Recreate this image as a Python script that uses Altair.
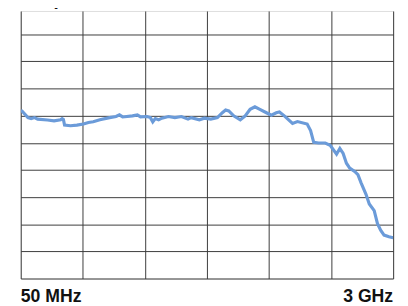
import altair as alt
import pandas as pd

# Trace (frequency in MHz, level in dB relative to the flat part)
freq_mhz = [50, 60, 107, 133, 159, 184, 262, 314, 366, 378, 388, 397, 444, 495, 547, 586,
            624, 677, 754, 805, 832, 857, 935, 974, 999, 1051, 1077, 1096, 1116, 1142, 1168,
            1220, 1271, 1323, 1375, 1401, 1465, 1504, 1556, 1608, 1647, 1673, 1698, 1737,
            1789, 1828, 1867, 1905, 1944, 1996, 2035, 2074, 2099, 2138, 2203, 2242, 2319,
            2346, 2371, 2410, 2462, 2501, 2552, 2578, 2604, 2630, 2656, 2695, 2721, 2746,
            2785, 2811, 2850, 2876, 2901, 2928, 2967, 3000]
level_db = [0.35, 0.35, -0.14, -0.21, -0.14, -0.25, -0.32, -0.38, -0.30, -0.21, -0.27, -0.69,
            -0.74, -0.69, -0.61, -0.50, -0.45, -0.30, -0.14, -0.06, 0.06, -0.09, -0.01, 0.06,
            -0.09, -0.06, -0.14, -0.45, -0.21, -0.30, -0.18, -0.06, -0.14, -0.06, -0.25, -0.14,
            -0.30, -0.18, -0.25, -0.14, 0.22, 0.42, 0.35, -0.01, -0.30, -0.01, 0.47, 0.66,
            0.47, 0.22, 0.04, 0.22, 0.27, -0.01, -0.57, -0.43, -0.61, -1.10, -1.96, -2.01,
            -2.01, -2.18, -2.83, -2.42, -2.78, -3.50, -3.86, -4.11, -4.35, -4.95, -5.79,
            -6.51, -7.00, -7.96, -8.44, -8.80, -8.92, -8.99]

label_text = ["50 MHz", "3 GHz"]
label_freq = [50, 3000]
label_align = ["left", "right"]

title_text = "2 dB per division"

f_start, f_stop = 50, 3000
x_divisions = 6
x_grid = [f_start + k * (f_stop - f_start) / x_divisions for k in range(x_divisions + 1)]
y_grid = list(range(-12, 7, 2))

trace = pd.DataFrame({"freq": freq_mhz, "level": level_db})
labels = pd.DataFrame({"freq": label_freq, "text": label_text, "align": label_align})

x_scale = alt.Scale(domain=[f_start, f_stop], nice=False, zero=False)
y_scale = alt.Scale(domain=[-12, 7.72], nice=False, zero=False)

x_axis = alt.Axis(values=x_grid, grid=True, gridColor="#3a3a3a", gridWidth=1,
                  labels=False, ticks=False, domain=False, title=None)
y_axis = alt.Axis(values=y_grid, grid=True, gridColor="#3a3a3a", gridWidth=1,
                  labels=False, ticks=False, domain=False, title=None)

label_font = "Liberation Sans Narrow, Arial Narrow, Liberation Sans"

line = alt.Chart(trace).mark_line(color="#6b9bd9", strokeWidth=3.2, clip=True).encode(
    x=alt.X("freq:Q", scale=x_scale, axis=x_axis),
    y=alt.Y("level:Q", scale=y_scale, axis=y_axis),
)

left_lab = alt.Chart(labels[labels["align"] == "left"]).mark_text(
    align="left", baseline="alphabetic", fontSize=18, fontWeight="bold",
    font=label_font, color="#111111"
).encode(x=alt.X("freq:Q", scale=x_scale), y=alt.value(297), text="text:N")

right_lab = alt.Chart(labels[labels["align"] == "right"]).mark_text(
    align="right", baseline="alphabetic", fontSize=18, fontWeight="bold",
    font=label_font, color="#111111"
).encode(x=alt.X("freq:Q", scale=x_scale), y=alt.value(297), text="text:N")

title = alt.Chart(pd.DataFrame({"t": [title_text]})).mark_text(
    align="left", baseline="bottom", fontSize=19, fontWeight="bold",
    font=label_font, color="#111111"
).encode(x=alt.value(-13), y=alt.value(-2), text="t:N")

chart = alt.layer(line, left_lab, right_lab, title).properties(
    width=380, height=273,
    autosize=alt.AutoSizeParams(type="none"),
    padding={"left": 13, "top": 0, "right": 7, "bottom": 25},
).configure_view(stroke=None).configure(background="white")

chart.save("out.html", embed_options={"renderer": "svg", "actions": False})
